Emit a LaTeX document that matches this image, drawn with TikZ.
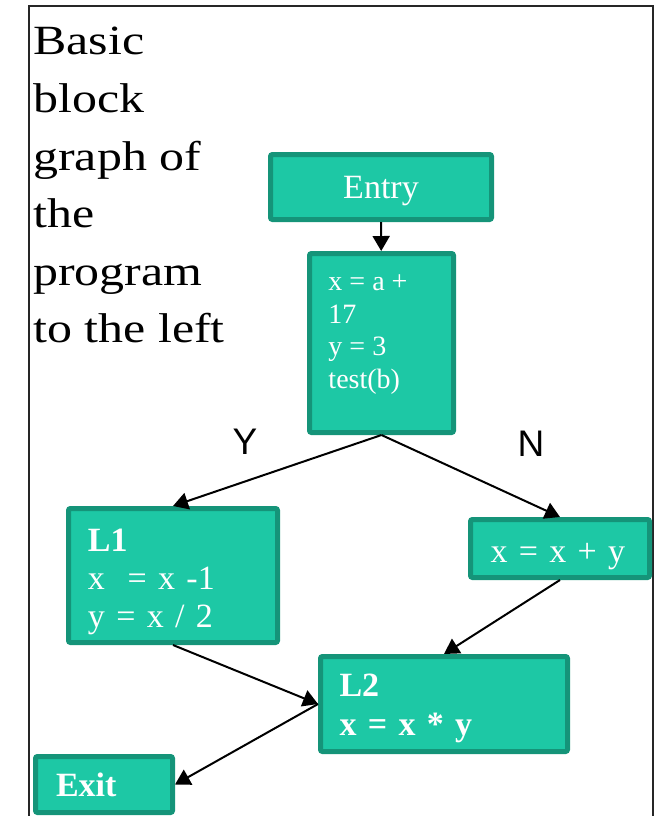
\documentclass[tikz,border=0pt]{standalone}
\usepackage{fontspec}
\setmainfont{Liberation Serif}
\setsansfont{Liberation Sans}
\newfontfamily\widefont[FakeStretch=1.2]{Liberation Serif}
\usetikzlibrary{positioning,arrows.meta}
\definecolor{blkfill}{RGB}{29,200,165}
\definecolor{blkedge}{RGB}{21,148,121}
\newcommand{\fsz}[2]{\fontsize{#1}{#2}\selectfont}

\begin{document}
\begin{tikzpicture}[x=0.5pt,y=-0.5pt,>={Triangle[length=7.5pt,width=8.5pt]},
  blk/.style={draw=blkedge,fill=blkfill,line width=2.5pt,rounded corners=1pt,
    text=white,align=left},
  arr/.style={->,line width=1pt},
  yn/.style={font=\sffamily\fsz{18.5}{20}}]
  \useasboundingbox (0,0) rectangle (656,816);
  \draw[line width=1pt,black!85] (29,816) |- (653,6) -- (653,816);
  \node[anchor=north west,align=left,inner sep=0pt,font=\widefont\fsz{20.8}{28.8}]
    (title) at (33,27) {Basic\\block\\graph of\\the\\program\\to the left};
  % blocks
  \node[blk,minimum width=110.5pt,minimum height=32.5pt,text height=15.5pt,text depth=3.7pt,font=\fsz{17}{20}]
    (entry) at (381,187) {Entry};
  \node[blk,inner sep=0pt,minimum width=72pt,minimum height=89.5pt,font=\fsz{14}{16.25}]
    (b1) at (381.5,343) {\begin{minipage}[c][75pt][t]{53pt}\strut x = a +\\17\\y = 3\\test(b)\end{minipage}};
  \node[blk,text width=85pt,inner xsep=9.75pt,minimum height=67pt,font=\fsz{17}{19}]
    (L1) at (173,575.5) {\rule{0pt}{17.5pt}\textbf{L1}\\x\ \ = x -1\\y = x / 2};
  \node[blk,text width=69.5pt,inner xsep=10pt,minimum height=29pt,text height=17.5pt,text depth=3.7pt,font=\fsz{17}{19}]
    (xy) at (560,548.5) {x = x + y};
  \node[blk,text width=104.5pt,inner xsep=9.5pt,minimum height=47.5pt,font=\bfseries\fsz{17}{19.3}]
    (L2) at (444,704) {\rule{0pt}{15.5pt}L2\\x = x * y};
  \node[blk,text width=48pt,inner xsep=10.25pt,minimum height=28pt,font=\bfseries\fsz{17}{20}]
    (exit) at (104,784.5) {Exit};
  \node[yn] (yes) at (245,442) {Y};
  \node[yn] (no) at (531,444) {N};
  % edges
  \draw[arr] (entry) -- (b1);
  \draw[arr] (b1.south) -- (L1.north);
  \draw[arr] (b1.south) -- (xy.north);
  \draw[arr] (xy.south) -- (L2.north);
  \draw[arr] (L1.south) -- (L2.west);
  \draw[arr] (L2.west) -- (exit.east);
\end{tikzpicture}
\end{document}
